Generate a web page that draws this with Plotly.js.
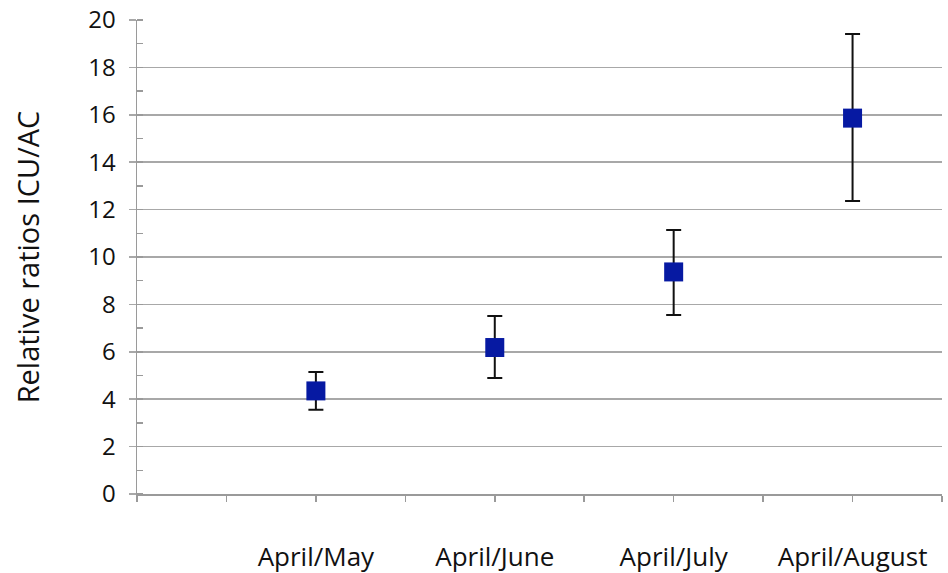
<!DOCTYPE html>
<html>
<head>
<meta charset="utf-8">
<script src="https://cdn.plot.ly/plotly-3.0.1.min.js"></script>
<style>html,body{margin:0;padding:0;background:#fff;}#chart{width:948px;height:573px;}</style>
</head>
<body>
<div id="chart"></div>
<script>
const categories = ["April/May", "April/June", "April/July", "April/August"];
const positions = [2, 4, 6, 8];
const ratios = [4.35, 6.18, 9.37, 15.86];
const errUpper = [5.15, 7.51, 11.14, 19.41];
const errLower = [3.55, 4.89, 7.55, 12.36];
const yTicks = [0, 2, 4, 6, 8, 10, 12, 14, 16, 18, 20];

const plus = errUpper.map((u, i) => u - ratios[i]);
const minus = errLower.map((l, i) => ratios[i] - l);

const xTickVals = [0,1,2,3,4,5,6,7,8,9];
const xTickText = xTickVals.map(v => {
  const idx = positions.indexOf(v);
  return idx >= 0 ? categories[idx] : "";
});

const trace = {
  x: positions,
  y: ratios,
  type: 'scatter',
  mode: 'markers',
  marker: {symbol: 'square', size: 19, color: '#0619a2'},
  error_y: {type: 'data', symmetric: false, array: plus, arrayminus: minus,
            color: '#111111', thickness: 2, width: 7.5},
  hoverinfo: 'none',
  showlegend: false
};

const layout = {
  width: 948, height: 573,
  margin: {l: 137, r: 6, t: 20, b: 79},
  paper_bgcolor: '#ffffff', plot_bgcolor: '#ffffff',
  font: {family: 'Open Sans, sans-serif', color: '#111111'},
  xaxis: {
    range: [0, 9], tickmode: 'array', tickvals: xTickVals, ticktext: xTickText,
    showgrid: false, zeroline: false, showline: true, linecolor: '#9a9a9a', linewidth: 1.5,
    ticks: 'outside', ticklen: 6, tickcolor: '#9a9a9a', tickwidth: 1.5,
    ticklabelstandoff: 33,
    tickfont: {size: 26, family: 'Open Sans, sans-serif', color: '#111111'},
    fixedrange: true
  },
  yaxis: {
    range: [0, 20], tickmode: 'array', tickvals: yTicks,
    showgrid: true, gridcolor: '#a8a8a8', gridwidth: 1.5,
    zeroline: false, showline: true, linecolor: '#9a9a9a', linewidth: 1.5,
    ticks: 'outside', ticklen: 7, tickcolor: '#a8a8a8', tickwidth: 1.5,
    ticklabelstandoff: 8,
    minor: {dtick: 1, ticks: 'inside', ticklen: 6, tickcolor: '#9a9a9a', tickwidth: 1.5, showgrid: false},
    tickfont: {size: 24, family: 'Open Sans, sans-serif', color: '#111111'},
    title: {text: 'Relative ratios ICU/AC', font: {size: 29, family: 'Open Sans, sans-serif', color: '#111111'}, standoff: 40},
    fixedrange: true
  }
};

Plotly.newPlot('chart', [trace], layout, {displayModeBar: false, staticPlot: true});
</script>
</body>
</html>
